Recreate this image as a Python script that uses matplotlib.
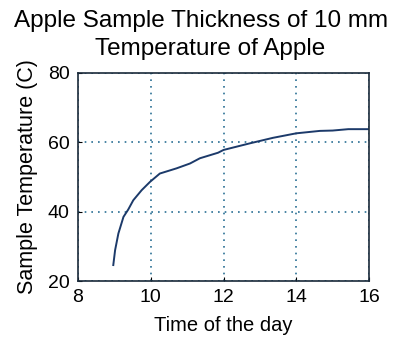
import matplotlib.pyplot as plt

plt.rcParams['font.family'] = ['Liberation Sans', 'DejaVu Sans']

# time of day (h) and sample temperature (C)
time_h = [8.97, 9.02, 9.11, 9.25, 9.38, 9.52, 9.75, 9.98, 10.25, 10.71, 11.08,
          11.35, 11.85, 12.0, 12.72, 13.36, 14.0, 14.65, 15.0, 15.43, 16.0]
temp_c = [24.6, 28.9, 33.7, 38.5, 40.6, 43.3, 46.2, 48.6, 51.0, 52.5, 53.9,
          55.4, 57.0, 57.8, 59.7, 61.3, 62.6, 63.3, 63.4, 63.8, 63.8]

xticks = [8, 10, 12, 14, 16]
yticks = [20, 40, 60, 80]

fig = plt.figure(figsize=(3.95, 3.39), dpi=100)
ax = fig.add_axes([78/395, 1-281/339, 291/395, 208/339])

ax.plot(time_h, temp_c, color='#1c3a6a', lw=1.4)
ax.set_xlim(8, 16)
ax.set_ylim(20, 80)
ax.set_xticks(xticks)
ax.set_yticks(yticks)
ax.grid(True, linestyle=(0, (1, 3)), color='#2a7095', lw=1.2)
ax.tick_params(direction='in', length=3, labelsize=14, pad=6)
for s in ax.spines.values():
    s.set_linewidth(1.2)
    s.set_color('#1a2a3a')

ax.set_xlabel('Time of the day', fontsize=14.5, labelpad=7)
ax.set_ylabel('Sample Temperature (C)', fontsize=15.5, labelpad=7)
fig.text(201/395, 1-27/339, 'Apple Sample Thickness of 10 mm', ha='center', va='baseline', fontsize=17.5)
fig.text(210/395, 1-55/339, 'Temperature of Apple', ha='center', va='baseline', fontsize=17.5)

fig.savefig('out.png', dpi=100)
